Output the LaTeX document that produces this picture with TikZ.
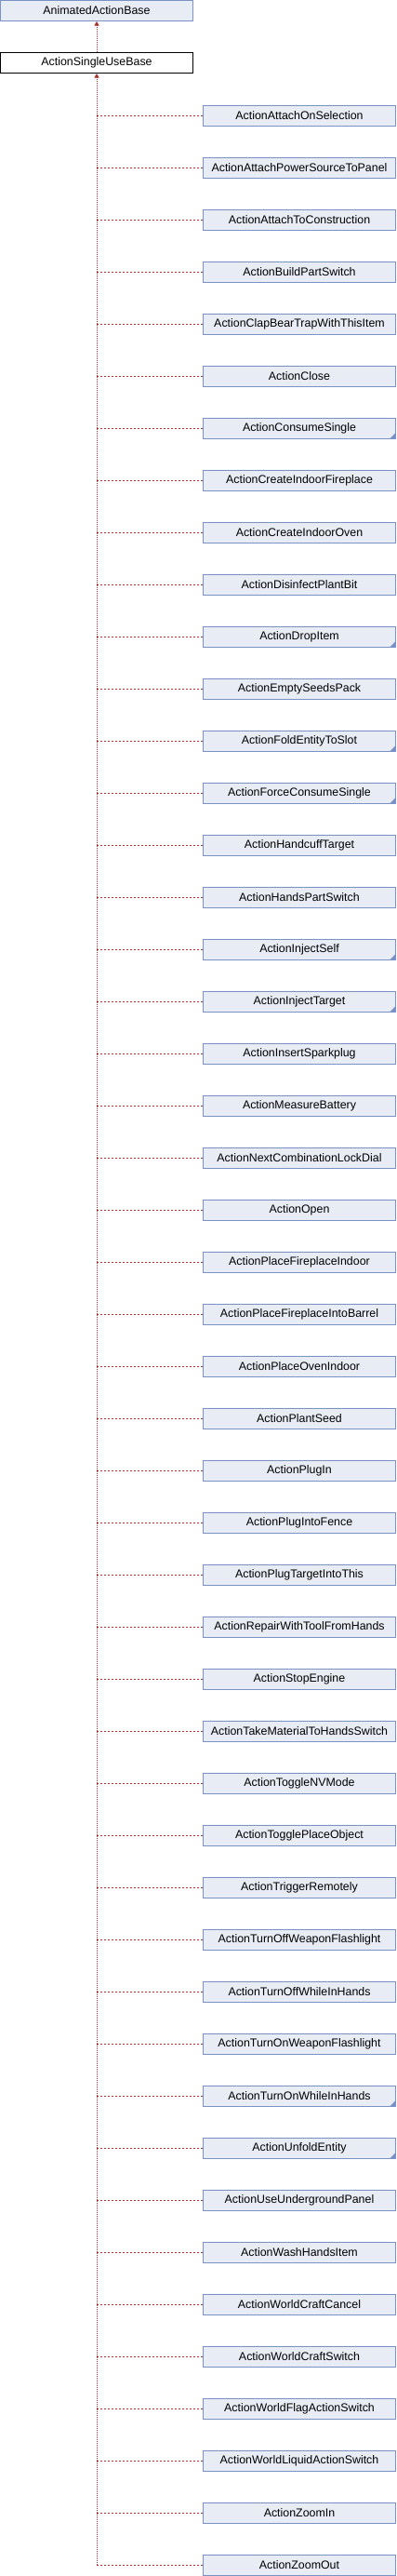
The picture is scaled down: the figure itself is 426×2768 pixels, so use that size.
\documentclass[tikz,border=0pt]{standalone}
\usepackage{fontspec}
\setmainfont{Liberation Sans}
\usetikzlibrary{arrows.meta}
\definecolor{boxfill}{HTML}{E8ECF4}
\definecolor{boxline}{HTML}{7A92C8}
\definecolor{edgecol}{HTML}{A83232}
\begin{document}
\begin{tikzpicture}[x=1pt,y=-1pt,
  cls/.style={draw=boxline, fill=boxfill, line width=1pt, minimum width=206.4pt,
    minimum height=22pt, inner sep=0pt, font=\fontsize{12.4}{14}\selectfont},
  trunk/.style={draw=edgecol, line width=1pt, dash pattern=on 1pt off 1pt},
  hedge/.style={draw=edgecol, line width=1pt, dash pattern=on 2.5pt off 1.5pt},
  tip/.style={-{Triangle[width=5pt,length=4.5pt,fill=edgecol]}}]
\useasboundingbox (0,0) rectangle (426,2768);
\node[cls, minimum width=206.6pt] (p1) at (104,11.5) {AnimatedActionBase};
\node[cls, fill=white, draw=black, minimum width=206.6pt] (p2) at (104,67.5) {ActionSingleUseBase};
\draw[trunk, tip] (p2.north) -- (p1.south);
\foreach \nm/\cr [count=\i] in {
ActionAttachOnSelection/0,
ActionAttachPowerSourceToPanel/0,
ActionAttachToConstruction/0,
ActionBuildPartSwitch/0,
ActionClapBearTrapWithThisItem/0,
ActionClose/0,
ActionConsumeSingle/1,
ActionCreateIndoorFireplace/0,
ActionCreateIndoorOven/0,
ActionDisinfectPlantBit/0,
ActionDropItem/1,
ActionEmptySeedsPack/0,
ActionFoldEntityToSlot/1,
ActionForceConsumeSingle/1,
ActionHandcuffTarget/0,
ActionHandsPartSwitch/0,
ActionInjectSelf/1,
ActionInjectTarget/1,
ActionInsertSparkplug/0,
ActionMeasureBattery/0,
ActionNextCombinationLockDial/0,
ActionOpen/0,
ActionPlaceFireplaceIndoor/0,
ActionPlaceFireplaceIntoBarrel/0,
ActionPlaceOvenIndoor/0,
ActionPlantSeed/0,
ActionPlugIn/0,
ActionPlugIntoFence/0,
ActionPlugTargetIntoThis/0,
ActionRepairWithToolFromHands/0,
ActionStopEngine/0,
ActionTakeMaterialToHandsSwitch/0,
ActionToggleNVMode/0,
ActionTogglePlaceObject/0,
ActionTriggerRemotely/0,
ActionTurnOffWeaponFlashlight/0,
ActionTurnOffWhileInHands/0,
ActionTurnOnWeaponFlashlight/0,
ActionTurnOnWhileInHands/1,
ActionUnfoldEntity/1,
ActionUseUndergroundPanel/0,
ActionWashHandsItem/0,
ActionWorldCraftCancel/0,
ActionWorldCraftSwitch/0,
ActionWorldFlagActionSwitch/0,
ActionWorldLiquidActionSwitch/0,
ActionZoomIn/0,
ActionZoomOut/0} {
  \node[cls] (c\i) at (322,{124+56*(\i-1)}) {\nm};
  \ifnum\cr=1
    \fill[boxline] ([xshift=-0.5pt,yshift=0.5pt]c\i.south east) -- ++(-5.5,0) -- ++(5.5,-5.5) -- cycle;
  \fi
  \draw[hedge] (c\i.west) -- (c\i.west -| p2.south);
}
\draw[trunk, tip] (c48.west -| p2.south) -- (p2.south);
\end{tikzpicture}
\end{document}
